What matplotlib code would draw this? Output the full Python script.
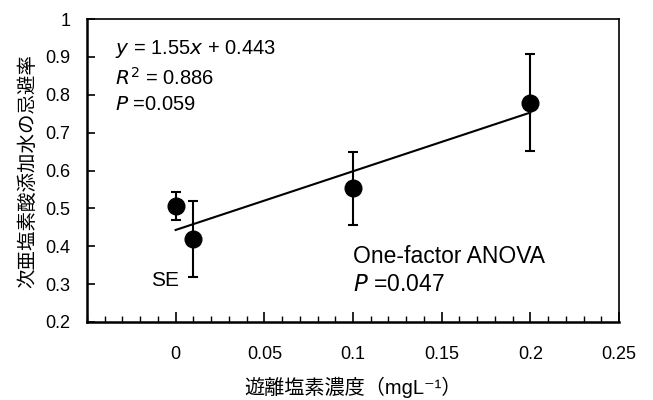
import numpy as np
import matplotlib
matplotlib.use("Agg")
import matplotlib.pyplot as plt
from matplotlib.ticker import MultipleLocator

plt.rcParams['font.family'] = ['Liberation Sans', 'Noto Sans CJK JP', 'DejaVu Sans']

# concentration vs repellency (mean, SE)
conc = [0.0, 0.01, 0.1, 0.2]
rate = [0.505, 0.42, 0.553, 0.779]
se = [0.037, 0.10, 0.097, 0.128]

# regression y = a*x + b
slope = 1.55
intercept = 0.443
fit_x = [0.0, 0.2]

fig = plt.figure(figsize=(6.53, 4.0), dpi=100)
ax = fig.add_axes([87 / 653, 1 - 322 / 400, 532 / 653, 303 / 400])

ax.errorbar(conc, rate, yerr=se, fmt='o', color='black', ms=12,
            capsize=3.8, elinewidth=1.5, capthick=1.5, zorder=3)
fx = np.array(fit_x)
ax.plot(fx, slope * fx + intercept, color='black', lw=1.5, zorder=2)

ax.set_xlim(-0.05, 0.25)
ax.set_ylim(0.2, 1.0)
ax.set_xticks([0, 0.05, 0.1, 0.15, 0.2, 0.25])
ax.set_xticklabels(['0', '0.05', '0.1', '0.15', '0.2', '0.25'])
ax.xaxis.set_minor_locator(MultipleLocator(0.01))
ax.set_yticks(np.arange(0.2, 1.01, 0.1))
ax.set_yticklabels(['0.2', '0.3', '0.4', '0.5', '0.6', '0.7', '0.8', '0.9', '1'])
ax.tick_params(axis='x', which='major', direction='in', length=7, width=1.2,
               labelsize=13, pad=17)
ax.tick_params(axis='x', which='minor', direction='in', length=4, width=1)
ax.tick_params(axis='y', direction='in', length=6, width=1.2, labelsize=13, pad=12)

for s in ['left', 'bottom']:
    ax.spines[s].set_linewidth(1.8)
for s in ['top', 'right']:
    ax.spines[s].set_linewidth(1.2)

fs = 14.5
ax.text(0.053, 0.884, r'$\it{y}$ = 1.55$\it{x}$ + 0.443',
        transform=ax.transAxes, fontsize=fs, va='baseline')
ax.text(0.053, 0.782, r'$\it{R}^2$ = 0.886', transform=ax.transAxes,
        fontsize=fs, va='baseline')
ax.text(0.053, 0.700, r'$\it{P}$ =0.059', transform=ax.transAxes,
        fontsize=fs, va='baseline')
ax.text(-0.014, 0.2955, 'SE', fontsize=15, va='baseline')
ax.text(0.1, 0.3554, 'One-factor ANOVA', fontsize=16.5, va='baseline')
ax.text(0.1, 0.283, r'$\it{P}$ =0.047', fontsize=16.5, va='baseline')

ax.set_ylabel('次亜塩素酸添加水の忌避率', fontsize=14, labelpad=6)
ax.set_xlabel('遊離塩素濃度（mgL⁻¹）', fontsize=14.5, labelpad=10)

fig.savefig('out.png', dpi=100)
